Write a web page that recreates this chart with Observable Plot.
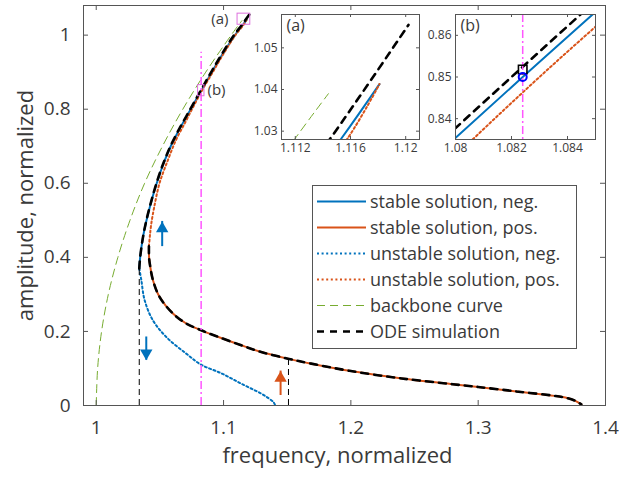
<!DOCTYPE html>
<html><head><meta charset="utf-8">
<script src="https://cdn.jsdelivr.net/npm/d3@7"></script>
<script src="https://cdn.jsdelivr.net/npm/@observablehq/plot@0.6"></script>
<style>
html,body{margin:0;padding:0;background:#fff;}
#wrap{position:relative;width:630px;height:477px;overflow:hidden;font-family:"Open Sans",sans-serif;}
#wrap > svg{position:absolute;}
</style></head><body><div id="wrap"></div>
<script>
// ---------------- data ----------------
const xTicks = [1, 1.1, 1.2, 1.3, 1.4];
const yTicks = [0, 0.2, 0.4, 0.6, 0.8, 1];
const insetAxTicks = [1.112, 1.116, 1.12];
const insetAyTicks = [1.03, 1.04, 1.05];
const insetBxTicks = [1.08, 1.082, 1.084];
const insetByTicks = [0.84, 0.85, 0.86];

const xLabel = "frequency, normalized";
const yLabel = "amplitude, normalized";
const legendLabels = ["stable solution, neg.", "stable solution, pos.", "unstable solution, neg.",
  "unstable solution, pos.", "backbone curve", "ODE simulation"];

// [frequency, amplitude]
const stableNeg = [[1.0338,0.37],[1.0345,0.40],[1.0365,0.45],[1.0395,0.50],[1.0432,0.55],[1.0475,0.60],
  [1.0525,0.65],[1.0585,0.70],[1.0660,0.75],[1.0742,0.80],[1.0824,0.85],[1.0908,0.90],[1.0995,0.95],
  [1.1090,1.00],[1.11535,1.0283],[1.1181,1.0413]];
const unstablePos = [[1.0414,0.43],[1.0422,0.46],[1.0432,0.49],[1.0455,0.535],[1.0497,0.60],[1.0560,0.66],
  [1.0628,0.718],[1.0700,0.765],[1.0760,0.805],[1.0830,0.85],[1.0915,0.90],[1.1000,0.95],[1.1093,1.00],
  [1.1158,1.0283],[1.1181,1.0413]];
const stablePos = [[1.0414,0.43],[1.0415,0.40],[1.0422,0.38],[1.0445,0.339],[1.0497,0.2935],[1.0602,0.2485],
  [1.0707,0.2214],[1.0825,0.203],[1.0960,0.185],[1.1139,0.1626],[1.1296,0.1445],[1.1505,0.1265],
  [1.1689,0.113],[1.2000,0.093],[1.2400,0.073],[1.2800,0.0575],[1.3000,0.050],[1.3300,0.038],
  [1.3600,0.026],[1.3700,0.020],[1.3760,0.013],[1.3810,0.003]];
const unstableNeg = [[1.0338,0.37],[1.0354,0.339],[1.0380,0.2846],[1.0445,0.230],[1.0550,0.185],
  [1.0707,0.140],[1.0825,0.110],[1.0982,0.087],[1.1139,0.059],[1.1296,0.032],[1.1360,0.018],
  [1.1395,0.008],[1.1406,0]];
const backbone = [[1.0,0],[1.0011,0.1],[1.0042,0.2],[1.0095,0.3],[1.017,0.4],[1.0265,0.5],[1.038,0.6],
  [1.052,0.7],[1.068,0.8],[1.086,0.9],[1.106,1.0],[1.112,1.0283],[1.1144,1.039]];
const odeUpper = [[1.0338,0.37],[1.0345,0.40],[1.0365,0.45],[1.0394,0.50],[1.0431,0.55],[1.0473,0.60],
  [1.0523,0.65],[1.0583,0.70],[1.0657,0.75],[1.0739,0.80],[1.0820,0.85],[1.0903,0.90],[1.0989,0.95],
  [1.1082,1.00],[1.11455,1.0283],[1.1202,1.0555]];
const odeLower = stablePos;

const jumpFreq = [1.0338, 1.151];
const jumpAmp = [0.37, 0.126];
const arrowFreq = [1.0518, 1.0393, 1.1448];
const arrowFrom = [0.429, 0.185, 0.027];
const arrowTo = [0.497, 0.122, 0.093];
const arrowSeries = ["neg", "neg", "pos"];
const probeFreq = 1.0824, probeTop = 0.954;
const odeProbe = [1.0824, 0.8518];
const hbProbe = [1.0824, 0.85];
const insetA = {x: [1.111, 1.121], y: [1.028, 1.058]};
const insetB = {x: [1.08, 1.085], y: [0.835, 0.865]};

// ---------------- styling ----------------
const BLUE = "#0072BD", ORANGE = "#D95319", GREEN = "#77AC30", MAGENTA = "#ff55ff", PINK = "#dd70dd";
const AXIS = "#555", TXT = "#3a3a3a", FONT = "Open Sans";
const X = d => d[0], Y = d => d[1];
const DOT = "2,2.6", BBDASH = "8,5", ODEDASH = "7,6";

function curves(clip) {
  const c = "catmull-rom";
  return [
    Plot.line(stableNeg, {x: X, y: Y, stroke: BLUE, strokeWidth: 2, curve: c, clip}),
    Plot.line(stablePos, {x: X, y: Y, stroke: ORANGE, strokeWidth: 2, curve: c, clip}),
    Plot.line(unstableNeg, {x: X, y: Y, stroke: BLUE, strokeWidth: 2, strokeDasharray: DOT, curve: c, clip}),
    Plot.line(unstablePos, {x: X, y: Y, stroke: ORANGE, strokeWidth: 2, strokeDasharray: DOT, curve: c, clip}),
    Plot.line(backbone, {x: X, y: Y, stroke: GREEN, strokeWidth: 1, strokeDasharray: BBDASH, curve: c, clip}),
    Plot.line(odeUpper, {x: X, y: Y, stroke: "black", strokeWidth: 2.6, strokeDasharray: ODEDASH, curve: c, clip}),
    Plot.line(odeLower, {x: X, y: Y, stroke: "black", strokeWidth: 2.6, strokeDasharray: ODEDASH, curve: c, clip})
  ];
}
function innerTicks(xt, yt, W, H, len) {
  return [
    Plot.tickX(xt, {x: d => d, insetTop: H - len, stroke: AXIS}),
    Plot.tickX(xt, {x: d => d, insetBottom: H - len, stroke: AXIS}),
    Plot.tickY(yt, {y: d => d, insetRight: W - len, stroke: AXIS}),
    Plot.tickY(yt, {y: d => d, insetLeft: W - len, stroke: AXIS})
  ];
}

const wrap = document.getElementById("wrap");

// ---------------- main chart ----------------
const mW = 630, mH = 477, mL = 83, mR = 25, mT = 5, mB = 72;
const arrows = arrowFreq.map((f, i) => ({f, from: arrowFrom[i], to: arrowTo[i],
  up: arrowTo[i] > arrowFrom[i], color: arrowSeries[i] === "neg" ? BLUE : ORANGE}));
const TRI_R = 4.6, TRI_OFF = 2 * TRI_R * Math.sqrt(Math.PI / (3 * Math.sqrt(3)));

const main = Plot.plot({
  width: mW, height: mH, marginLeft: mL, marginRight: mR, marginTop: mT, marginBottom: mB,
  x: {domain: [0.99, 1.4]}, y: {domain: [0, 1.08]},
  color: {type: "identity"},
  style: {fontFamily: FONT, background: "transparent", color: TXT},
  marks: [
    ...curves(false),
    Plot.ruleX(jumpFreq.map((f, i) => [f, jumpAmp[i]]), {x: X, y1: 0, y2: Y, stroke: "black", strokeWidth: 1, strokeDasharray: "6,4"}),
    Plot.ruleX([probeFreq], {x: d => d, y1: 0, y2: probeTop, stroke: MAGENTA, strokeWidth: 1.5, strokeDasharray: "8,3,2,3"}),
    Plot.ruleX(arrows, {x: "f", y1: "from", y2: "to", stroke: "color", strokeWidth: 2}),
    Plot.dot(arrows, {filter: d => d.up, x: "f", y: "to", symbol: "triangle", r: TRI_R, fill: "color", stroke: null, dy: TRI_OFF}),
    Plot.dot(arrows, {filter: d => !d.up, x: "f", y: "to", symbol: "triangle", r: TRI_R, fill: "color", stroke: null, rotate: 180, dy: -TRI_OFF}),
    Plot.rect([insetA, insetB], {x1: d => d.x[0], x2: d => d.x[1], y1: d => d.y[0], y2: d => d.y[1], stroke: PINK, strokeWidth: 1, fill: "none"}),
    Plot.text(["(a)"], {x: insetA.x[0], y: (insetA.y[0] + insetA.y[1]) / 2, text: d => d, textAnchor: "end", dx: -9, fontSize: 15, fill: TXT}),
    Plot.text(["(b)"], {x: insetB.x[1], y: (insetB.y[0] + insetB.y[1]) / 2, text: d => d, textAnchor: "start", dx: 3, fontSize: 15, fill: TXT}),
    ...innerTicks(xTicks, yTicks, mW - mL - mR, mH - mT - mB, 5),
    Plot.frame({stroke: AXIS}),
    Plot.axisX({ticks: xTicks, tickSize: 0, tickPadding: 15, fontSize: 19, tickFormat: d => String(d), label: null}),
    Plot.axisY({ticks: yTicks, tickSize: 0, tickPadding: 13, fontSize: 19, tickFormat: d => String(d), label: null}),
    Plot.text([xLabel], {text: d => d, frameAnchor: "bottom", dx: -7, dy: 57, textAnchor: "middle", fontSize: 22, fill: TXT}),
    Plot.text([yLabel], {text: d => d, frameAnchor: "left", dx: -58, rotate: -90, textAnchor: "middle", fontSize: 22, fill: TXT})
  ]
});
main.style.left = "0px"; main.style.top = "0px";
wrap.appendChild(main);

// ---------------- insets ----------------
function inset(dom, xt, yt, tag, extra, left, top, pw, ph) {
  const L = 36, R = 2, T = 1, B = 22;
  const p = Plot.plot({
    width: L + pw + R, height: T + ph + B, marginLeft: L, marginRight: R, marginTop: T, marginBottom: B,
    x: {domain: dom.x}, y: {domain: dom.y},
    style: {fontFamily: FONT, background: "transparent", color: TXT, overflow: "visible"},
    marks: [
      Plot.frame({fill: "white"}),
      ...curves(true),
      ...extra,
      ...innerTicks(xt, yt, pw, ph, 3),
      Plot.frame({stroke: AXIS}),
      Plot.axisX({ticks: xt, tickSize: 0, tickPadding: 4, fontSize: 12, tickFormat: d => String(d), label: null}),
      Plot.axisY({ticks: yt, tickSize: 0, tickPadding: 4, fontSize: 12, tickFormat: d => String(d), label: null}),
      Plot.text([tag], {text: d => d, frameAnchor: "top-left", dx: 5, dy: 5, textAnchor: "start", lineAnchor: "top", fontSize: 16, fill: TXT})
    ]
  });
  p.style.left = (left - L) + "px"; p.style.top = (top - T) + "px";
  wrap.appendChild(p);
}
inset(insetA, insetAxTicks, insetAyTicks, "(a)", [], 281, 14, 138, 125);
inset(insetB, insetBxTicks, insetByTicks, "(b)", [
  Plot.ruleX([probeFreq], {x: d => d, stroke: MAGENTA, strokeWidth: 1.5, strokeDasharray: "8,3,2,3"}),
  Plot.dot([odeProbe], {x: X, y: Y, symbol: "square", r: 4.8, stroke: "black", strokeWidth: 1.6, fill: "none"}),
  Plot.dot([hbProbe], {x: X, y: Y, r: 4, stroke: "#0000ff", strokeWidth: 2, fill: "none"})
], 455, 14, 140, 125);

// ---------------- legend ----------------
const legendStyle = [
  {stroke: BLUE, w: 2, dash: null}, {stroke: ORANGE, w: 2, dash: null},
  {stroke: BLUE, w: 2, dash: DOT}, {stroke: ORANGE, w: 2, dash: DOT},
  {stroke: GREEN, w: 1, dash: BBDASH}, {stroke: "black", w: 2.6, dash: ODEDASH}
];
const leg = d3.select(wrap).append("svg").attr("width", 266).attr("height", 165)
  .style("left", "312px").style("top", "185px");
leg.append("rect").attr("x", 0.5).attr("y", 0.5).attr("width", 264).attr("height", 163)
  .attr("fill", "white").attr("stroke", AXIS);
legendLabels.forEach((lab, i) => {
  const cy = 16.5 + i * 26, s = legendStyle[i];
  leg.append("line").attr("x1", 5).attr("x2", 54).attr("y1", cy).attr("y2", cy)
    .attr("stroke", s.stroke).attr("stroke-width", s.w).attr("stroke-dasharray", s.dash);
  leg.append("text").attr("x", 58).attr("y", cy).attr("dy", "0.35em")
    .attr("font-family", FONT).attr("font-size", 18).attr("fill", TXT).text(lab);
});
</script>
</body></html>
